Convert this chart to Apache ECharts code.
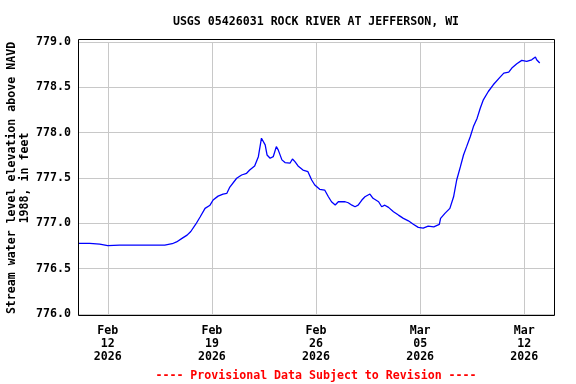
<!DOCTYPE html>
<html>
<head>
<meta charset="utf-8">
<script src="https://cdn.jsdelivr.net/npm/echarts@6/dist/echarts.min.js"></script>
<style>html,body{margin:0;padding:0;background:#fff}#c{width:576px;height:384px}</style>
</head>
<body>
<div id="c"></div>
<script>
var titleText = "USGS 05426031 ROCK RIVER AT JEFFERSON, WI";
var yAxisTitle = "Stream water level elevation above NAVD\n1988, in feet";
var footerText = "---- Provisional Data Subject to Revision ----";

var times = [
"2026-02-10T00:00","2026-02-10T19:00","2026-02-11T11:00","2026-02-12T00:00","2026-02-12T19:00",
"2026-02-13T20:00","2026-02-14T20:00","2026-02-15T20:00","2026-02-16T08:00","2026-02-16T15:00",
"2026-02-17T01:00","2026-02-17T08:00","2026-02-17T14:00","2026-02-17T22:00","2026-02-18T05:00",
"2026-02-18T13:00","2026-02-18T21:00","2026-02-19T02:00","2026-02-19T10:00","2026-02-19T18:00",
"2026-02-20T00:00","2026-02-20T05:00","2026-02-20T16:00","2026-02-21T00:00","2026-02-21T08:00",
"2026-02-21T13:00","2026-02-21T21:00","2026-02-22T03:00","2026-02-22T08:00","2026-02-22T11:00",
"2026-02-22T14:00","2026-02-22T17:00","2026-02-22T22:00","2026-02-23T03:00","2026-02-23T08:00",
"2026-02-23T11:00","2026-02-23T17:00","2026-02-23T22:00","2026-02-24T06:00","2026-02-24T10:00",
"2026-02-24T14:00","2026-02-24T17:00","2026-02-24T19:00","2026-02-25T03:00","2026-02-25T11:00",
"2026-02-25T17:00","2026-02-25T22:00","2026-02-26T06:00","2026-02-26T14:00","2026-02-26T20:00",
"2026-02-27T01:00","2026-02-27T07:00","2026-02-27T12:00","2026-02-27T23:00","2026-02-28T04:00",
"2026-02-28T10:00","2026-02-28T15:00","2026-02-28T20:00","2026-03-01T02:00","2026-03-01T07:00",
"2026-03-01T15:00","2026-03-01T20:00","2026-03-02T05:00","2026-03-02T10:00","2026-03-02T15:00",
"2026-03-02T21:00","2026-03-03T05:00","2026-03-03T13:00","2026-03-03T21:00","2026-03-04T05:00",
"2026-03-04T13:00","2026-03-04T21:00","2026-03-05T05:00","2026-03-05T13:00","2026-03-05T22:00",
"2026-03-06T07:00","2026-03-06T09:00","2026-03-06T16:00","2026-03-07T00:00","2026-03-07T06:00",
"2026-03-07T11:00","2026-03-07T17:00","2026-03-07T22:00","2026-03-08T03:00","2026-03-08T09:00",
"2026-03-08T14:00","2026-03-08T20:00","2026-03-09T01:00","2026-03-09T06:00","2026-03-09T14:00",
"2026-03-09T22:00","2026-03-10T09:00","2026-03-10T15:00","2026-03-10T23:00","2026-03-11T04:00",
"2026-03-11T12:00","2026-03-11T20:00","2026-03-12T04:00","2026-03-12T12:00","2026-03-12T18:00",
"2026-03-12T20:00","2026-03-13T01:00"
];
var levels = [
776.78,776.78,776.77,776.755,776.76,
776.76,776.76,776.76,776.775,776.795,
776.84,776.87,776.91,776.99,777.07,
777.165,777.20,777.257,777.30,777.323,
777.33,777.40,777.497,777.533,777.552,
777.588,777.633,777.735,777.939,777.95,
777.865,777.754,777.718,777.735,777.846,
777.81,777.70,777.67,777.663,777.71,
777.68,777.70,777.633,777.588,777.57,
777.478,777.423,777.375,777.367,777.293,
777.238,777.202,777.238,777.238,777.227,
777.20,777.183,777.20,777.257,777.293,
777.323,777.276,777.238,777.183,777.20,
777.176,777.128,777.091,777.055,777.028,
776.99,776.955,776.947,776.97,776.962,
776.988,777.055,777.11,777.165,777.293,
777.478,777.625,777.754,777.846,777.957,
778.067,778.16,778.27,778.362,778.454,
778.528,778.613,778.657,778.668,778.713,
778.76,778.797,778.786,778.804,778.834,
778.804,778.768
];
var tickDates = ["2026-02-12","2026-02-19","2026-02-26","2026-03-05","2026-03-12"];
var tickLabels = ["Feb\n12\n2026","Feb\n19\n2026","Feb\n26\n2026","Mar\n05\n2026","Mar\n12\n2026"];
var yMin = 776.0, yMax = 779.0, yStep = 0.5;
var xStart = "2026-02-10T00:00", xEnd = "2026-03-14T00:00";

function ts(s){ var p = s.split(/[-T:]/); return new Date(+p[0], +p[1]-1, +p[2], +(p[3]||0), +(p[4]||0)).getTime(); }
var tickTs = tickDates.map(ts);
var labelMap = {};
tickTs.forEach(function(t,i){ labelMap[t] = tickLabels[i]; });
var seriesData = times.map(function(t,i){ return [ts(t), levels[i]]; });

var FONT = "DejaVu Sans Mono";
var chart = echarts.init(document.getElementById('c'), null, {renderer:'canvas'});
chart.setOption({
  animation:false,
  backgroundColor:'#ffffff',
  title:[{
    text:titleText, left:311, top:11, textAlign:'center',
    textStyle:{fontFamily:FONT, fontWeight:'bold', fontSize:11.6, color:'#000'}
  },{
    text:footerText, left:311, top:365, textAlign:'center',
    textStyle:{fontFamily:FONT, fontWeight:'bold', fontSize:11.6, color:'#ff0000'}
  }],
  grid:{left:78, right:22, top:42, bottom:70, show:false, outerBoundsMode:'none', containLabel:false},
  xAxis:{
    type:'value', min:ts(xStart), max:ts(xEnd),
    axisLine:{show:false},
    axisTick:{show:false, customValues:tickTs},
    splitLine:{show:true, lineStyle:{color:'#c8c8c8', width:1}},
    axisLabel:{
      customValues:tickTs, margin:10, lineHeight:13,
      fontFamily:FONT, fontWeight:'bold', fontSize:11.6, color:'#000',
      formatter:function(v){ return labelMap[v] || ''; }
    }
  },
  yAxis:{
    type:'value', min:yMin, max:yMax, interval:yStep,
    name:yAxisTitle, nameLocation:'middle', nameRotate:90, nameGap:47, nameMoveOverlap:false,
    nameTextStyle:{fontFamily:FONT, fontWeight:'bold', fontSize:11.6, color:'#000', lineHeight:13},
    axisLine:{show:false}, axisTick:{show:false},
    splitLine:{show:true, lineStyle:{color:'#c8c8c8', width:1}},
    axisLabel:{margin:7, fontFamily:FONT, fontWeight:'bold', fontSize:11.6, color:'#000',
      formatter:function(v){ return v.toFixed(1); }}
  },
  graphic:[{
    type:'rect', silent:true, z:100,
    shape:{x:78.5, y:39.5, width:476, height:276},
    style:{fill:'none', stroke:'#000', lineWidth:1}
  }],
  series:[{
    type:'line', data:seriesData, showSymbol:false, symbol:'none',
    lineStyle:{color:'#0000ff', width:1.3}, z:5
  }]
});
</script>
</body>
</html>
